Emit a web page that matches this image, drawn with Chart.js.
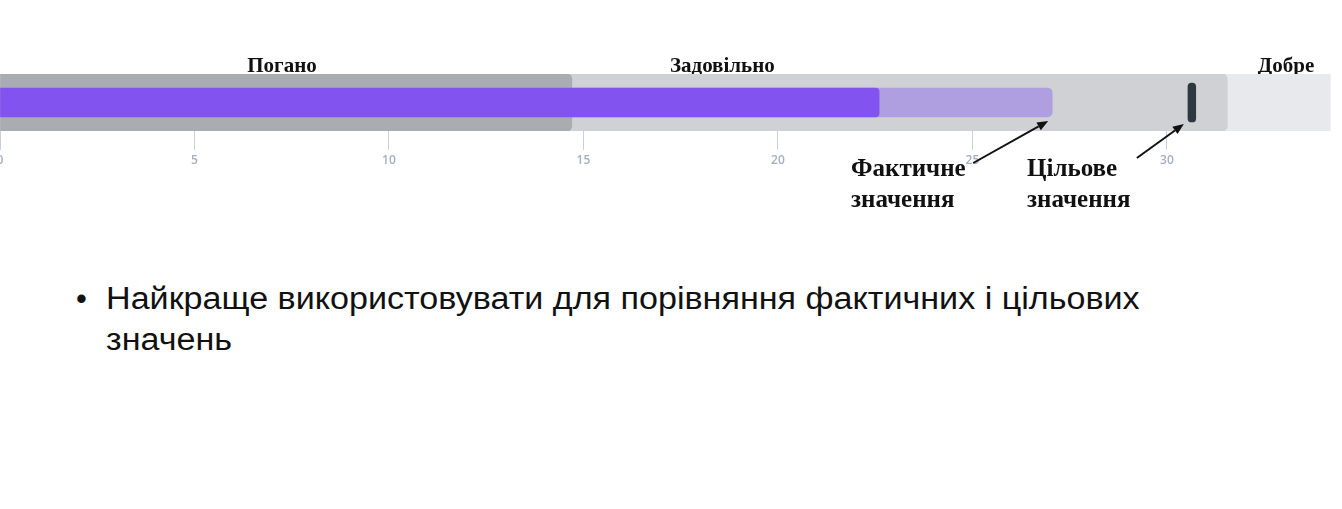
<!DOCTYPE html>
<html><head><meta charset="utf-8">
<script src="https://cdn.jsdelivr.net/npm/chart.js@4"></script>
<style>
html,body{margin:0;padding:0;background:#fff;width:1342px;height:509px;overflow:hidden;}
#wrap{position:absolute;left:0;top:0;width:1342px;height:230px;}
.ann{position:absolute;font-family:'Liberation Serif','Times New Roman',serif;font-weight:bold;font-size:25px;line-height:31px;color:#111;white-space:nowrap;}
.bul{position:absolute;font-family:'Liberation Sans',Arial,sans-serif;font-size:31px;line-height:41px;color:#111;white-space:nowrap;}
.stretch{transform:scaleX(1.1);transform-origin:0 0;}
</style></head><body>
<div id="wrap"><canvas id="c"></canvas></div>
<div class="ann" style="left:851px;top:152px">Фактичне<br>значення</div>
<div class="ann" style="left:1027px;top:152px">Цільове<br>значення</div>
<div class="bul" style="left:76px;top:278px">•</div>
<div class="bul stretch" style="left:106px;top:278px">Найкраще використовувати для порівняння фактичних і цільових<br>значень</div>
<script>
const categories = [''];
const rangeLabels = ['Погано', 'Задовільно', 'Добре'];
const rangeLabelPositions = [7.25, 18.57, 33.06];
const rangeEnds = [14.7, 31.55, 34.2];
const actualPrimary = [22.6];
const actualSecondary = [27.05];
const targetValues = [30.64];
const tickValues = [0, 5, 10, 15, 20, 25, 30];
const axisMin = 0, axisMax = 34.5;

const rangeColors = ['#a9adb2', '#cfd1d5', '#e8e9ec'];
const markerHalf = 0.1;

function drawArrow(ctx, x1, y1, x2, y2) {
  const ang = Math.atan2(y2 - y1, x2 - x1);
  const L = 11, W = 4.5;
  const bx = x2 - L * Math.cos(ang), by = y2 - L * Math.sin(ang);
  ctx.save();
  ctx.strokeStyle = '#111'; ctx.fillStyle = '#111'; ctx.lineWidth = 2;
  ctx.beginPath(); ctx.moveTo(x1, y1); ctx.lineTo(bx, by); ctx.stroke();
  ctx.beginPath();
  ctx.moveTo(x2, y2);
  ctx.lineTo(bx + W * Math.sin(ang), by - W * Math.cos(ang));
  ctx.lineTo(bx - W * Math.sin(ang), by + W * Math.cos(ang));
  ctx.closePath(); ctx.fill();
  ctx.restore();
}

const arrowPlugin = {
  id: 'arrows',
  afterDraw(chart) {
    const ctx = chart.ctx, xs = chart.scales.x, a = chart.chartArea;
    const hx1 = xs.getPixelForValue(actualSecondary[0]) - 4, hy1 = a.bottom - 10;
    drawArrow(ctx, hx1 - 75, hy1 + 42, hx1, hy1);
    const hx2 = xs.getPixelForValue(targetValues[0]) - 8, hy2 = a.bottom - 7;
    drawArrow(ctx, hx2 - 47, hy2 + 34, hx2, hy2);
  }
};

const datasets = [
  { label: 'Цільове значення', data: targetValues.map(v => [v - markerHalf, v + markerHalf]),
    backgroundColor: '#2e393f', barThickness: 39, borderRadius: 4, borderSkipped: false, grouped: false, order: 0 },
  { label: 'Фактичне значення', data: actualPrimary.map(v => [0, v]),
    backgroundColor: '#8253ef', barThickness: 29, borderRadius: 4, grouped: false, order: 1 },
  { label: 'Фактичне значення 2', data: actualSecondary.map(v => [0, v]),
    backgroundColor: '#b09fe0', barThickness: 29, borderRadius: 5, grouped: false, order: 2 }
];
rangeEnds.forEach((e, i) => {
  datasets.push({ label: rangeLabels[i], data: [[0, e]], backgroundColor: rangeColors[i],
    barThickness: 57, borderRadius: i < 2 ? 5 : 0, grouped: false, order: 3 + i });
});

new Chart(document.getElementById('c'), {
  type: 'bar',
  data: { labels: categories, datasets },
  options: {
    indexAxis: 'y',
    responsive: true,
    maintainAspectRatio: false,
    animation: false,
    layout: { padding: { top: 44, bottom: 59, left: 0, right: 0 } },
    plugins: { legend: { display: false }, tooltip: { enabled: false } },
    scales: {
      y: { type: 'category', labels: categories, display: false },
      x: {
        type: 'linear', position: 'bottom', min: axisMin, max: axisMax,
        border: { display: false },
        grid: { drawOnChartArea: false, drawTicks: true, tickLength: 19, color: '#c9d0da', lineWidth: 1 },
        ticks: { padding: 3, color: '#a3afc0', font: { family: 'Open Sans', size: 12, weight: '600' }, maxRotation: 0 },
        afterBuildTicks: s => { s.ticks = tickValues.map(v => ({ value: v })); },
        afterFit: s => { s.height = 40; s.paddingLeft = 0; s.paddingRight = 0; }
      },
      x2: {
        type: 'linear', position: 'top', min: axisMin, max: axisMax,
        border: { display: false },
        grid: { display: false, drawTicks: false },
        ticks: { padding: -3, color: '#111', autoSkip: false, maxRotation: 0,
          font: { family: 'Liberation Serif', size: 21, weight: 'bold', lineHeight: 1 },
          callback: (v, i) => rangeLabels[i] },
        afterBuildTicks: s => { s.ticks = rangeLabelPositions.map(v => ({ value: v })); },
        afterFit: s => { s.height = 30; s.paddingLeft = 0; s.paddingRight = 0; }
      }
    }
  },
  plugins: [arrowPlugin]
});
</script>
</body></html>
